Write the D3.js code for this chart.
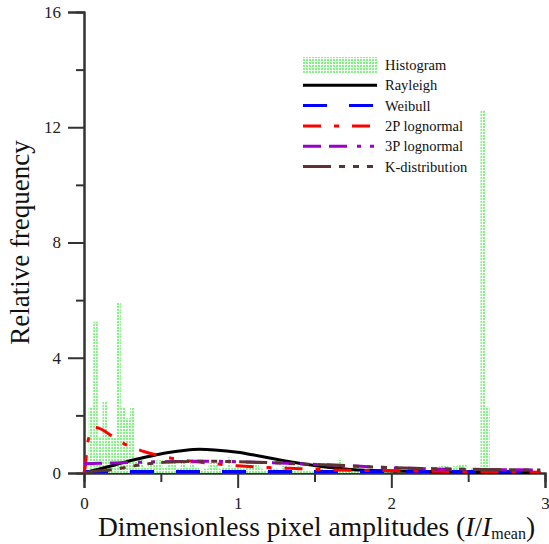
<!DOCTYPE html>
<html>
<head>
<meta charset="utf-8">
<script src="https://cdn.jsdelivr.net/npm/d3@7"></script>
<style>
  body { margin: 0; background: #fff; }
  svg { display: block; font-family: "Liberation Serif", "Times New Roman", serif; }
</style>
</head>
<body>
<div id="chart"></div>
<script>
// histogram: bins of 0.03 starting at 0
const histStep = 0.03;
const histValues = [
  0, 2.26, 5.25, 1.26, 2.5, 1.3, 1.25, 5.9, 2.26, 1.9,
  2.26, 0.45, 0.45, 0.2, 0.3, 0.45, 0.45, 0.2, 0.35, 0.35,
  0.15, 0.35, 0.2, 0.35, 0.2, 0.1, 0.15, 0.35, 0.35, 0.15,
  0.2, 0.55, 0.2, 0.2, 0.15, 0.3, 0.3, 0.3, 0.15, 0.1,
  0.2, 0.15, 0.1, 0.25, 0.1, 0.15, 0.25, 0.1, 0.1, 0.05,
  0.1, 0.15, 0.05, 0.1, 0.1, 0.45, 0.1, 0.2, 0.2, 0.05,
  0.05, 0.1, 0.05, 0.05, 0, 0.05, 0.05, 0, 0.05, 0.05,
  0, 0.05, 0.05, 0, 0.05, 0.05, 0.05, 0.24, 0.24, 0.05,
  0.24, 0.3, 0.3, 0.05, 0.2, 0.2, 12.6, 2.3, 0.05, 0.05,
  0, 0.05, 0.05, 0, 0.05, 0.05, 0, 0.05, 0, 0
];

// fitted curves as [x, y]
const rayleigh = [[0,0],[0.1,0.14],[0.2,0.28],[0.32,0.45],[0.42,0.57],[0.54,0.7],[0.65,0.78],
  [0.75,0.82],[0.85,0.8],[1.0,0.72],[1.1,0.63],[1.2,0.53],[1.3,0.43],[1.4,0.34],[1.5,0.26],
  [1.6,0.19],[1.7,0.14],[1.8,0.1],[2.0,0.07],[2.2,0.05],[2.4,0.04],[2.6,0.03],[2.8,0.02],[2.97,0.02]];
const weibull = [[0,0.05],[0.5,0.05],[1.0,0.05],[1.5,0.05],[2.0,0.05],[2.5,0.05],[2.97,0.05]];
const lognormal2 = [[0,0],[0.01,0.3],[0.02,0.9],[0.04,1.35],[0.07,1.58],[0.1,1.55],[0.15,1.4],
  [0.2,1.22],[0.25,1.05],[0.3,0.92],[0.35,0.82],[0.4,0.73],[0.46,0.64],[0.56,0.52],[0.65,0.44],
  [0.75,0.38],[0.85,0.32],[1.0,0.25],[1.2,0.19],[1.4,0.15],[1.6,0.11],[1.8,0.09],[2.0,0.08],
  [2.2,0.07],[2.4,0.05],[2.6,0.04],[2.8,0.035],[2.97,0.03]];
const lognormal3 = [[0,0.32],[0.2,0.35],[0.4,0.38],[0.6,0.4],[0.8,0.41],[1.0,0.39],[1.2,0.36],
  [1.4,0.32],[1.6,0.28],[1.8,0.23],[2.0,0.18],[2.2,0.15],[2.4,0.13],[2.6,0.12],[2.8,0.11],[2.97,0.1]];
const kdist = [[0,0],[0.05,0.05],[0.15,0.09],[0.25,0.17],[0.35,0.27],[0.45,0.34],[0.6,0.39],
  [0.8,0.41],[1.0,0.39],[1.2,0.36],[1.4,0.32],[1.6,0.28],[1.8,0.23],[2.0,0.19],[2.2,0.16],
  [2.4,0.14],[2.6,0.12],[2.8,0.11],[2.97,0.1]];

const xTicks = [0, 1, 2, 3];
const yTicks = [0, 4, 8, 12, 16];
const legendLabels = ["Histogram", "Rayleigh", "Weibull", "2P lognormal", "3P lognormal", "K-distribution"];

const width = 549, height = 544;
const margin = {top: 12, right: 4, bottom: 71, left: 84};

const x = d3.scaleLinear().domain([0, 3]).range([margin.left, width - margin.right]);
const y = d3.scaleLinear().domain([0, 16]).range([height - margin.bottom, margin.top]);

const svg = d3.select("#chart").append("svg")
  .attr("width", width)
  .attr("height", height)
  .attr("viewBox", [0, 0, width, height]);

// dotted green fill for the histogram
const pat = svg.append("defs").append("pattern")
  .attr("id", "dots")
  .attr("patternUnits", "userSpaceOnUse")
  .attr("width", 3).attr("height", 3);
pat.append("rect").attr("width", 3).attr("height", 3).attr("fill", "#f2fff2");
pat.append("rect").attr("width", 2).attr("height", 2).attr("fill", "#88f088");

// axes
const axisColor = "#333";
const xAxis = d3.axisBottom(x).tickValues(xTicks).tickSize(15).tickFormat(d3.format("d"));
const xMinor = d3.axisBottom(x).tickValues([0.5, 1.5, 2.5]).tickSize(9).tickFormat("");
const yAxis = d3.axisLeft(y).tickValues(yTicks).tickSize(16).tickFormat(d3.format("d"));
const yMinor = d3.axisLeft(y).tickValues([2, 6, 10, 14]).tickSize(8).tickFormat("");

function styleAxis(g) {
  g.attr("font-family", "'Liberation Serif', serif").attr("font-size", 17);
  g.select(".domain").attr("stroke", axisColor).attr("stroke-width", 2);
  g.selectAll(".tick line").attr("stroke", axisColor).attr("stroke-width", 2);
  g.selectAll(".tick text").attr("fill", "#222");
}

svg.append("g").attr("transform", `translate(0,${y(0)})`).call(xMinor).call(styleAxis);
svg.append("g").attr("transform", `translate(0,${y(0)})`).call(xAxis).call(styleAxis)
  .call(g => g.selectAll(".tick text").attr("dy", "1.05em"));
svg.append("g").attr("transform", `translate(${x(0)},0)`).call(yMinor).call(styleAxis);
svg.append("g").attr("transform", `translate(${x(0)},0)`).call(yAxis).call(styleAxis)
  .call(g => g.selectAll(".tick text").attr("x", -23));

svg.append("g")
  .selectAll("rect")
  .data(histValues)
  .join("rect")
  .attr("x", (d, i) => x(i * histStep))
  .attr("width", (d, i) => x((i + 1) * histStep) - x(i * histStep))
  .attr("y", d => y(d))
  .attr("height", d => y(0) - y(d))
  .attr("fill", "url(#dots)");

// series styles
const series = [
  {data: rayleigh, color: "#000000", dash: null},
  {data: weibull, color: "#0000ff", dash: "24 22"},
  {data: lognormal2, color: "#ff0000", dash: "18 13 5 13"},
  {data: lognormal3, color: "#9900cc", dash: "18 8 18 10 4 9 4 10"},
  {data: kdist, color: "#5c3333", dash: "28 8 6 8 6 8 6 8"}
];

const line = d3.line()
  .x(d => x(d[0]))
  .y(d => y(d[1]))
  .curve(d3.curveMonotoneX);

svg.append("g")
  .selectAll("path")
  .data(series)
  .join("path")
  .attr("d", s => line(s.data))
  .attr("fill", "none")
  .attr("stroke", s => s.color)
  .attr("stroke-width", 3)
  .attr("stroke-dasharray", s => s.dash);

// axis titles
const xTitle = svg.append("text")
  .attr("x", (x(0) + x(3)) / 2 + 2)
  .attr("y", 536)
  .attr("text-anchor", "middle")
  .attr("font-size", 27.5)
  .attr("fill", "#111");
xTitle.append("tspan").text("Dimensionless pixel amplitudes (");
xTitle.append("tspan").attr("font-style", "italic").text("I");
xTitle.append("tspan").text("/");
xTitle.append("tspan").attr("font-style", "italic").text("I");
xTitle.append("tspan").attr("font-size", 16).attr("dy", 3).text("mean");
xTitle.append("tspan").attr("dy", -3).text(")");

svg.append("text")
  .attr("transform", `translate(29,${y(8)}) rotate(-90)`)
  .attr("text-anchor", "middle")
  .attr("font-size", 27)
  .attr("fill", "#111")
  .text("Relative frequency");

// legend
const legend = svg.append("g").attr("transform", "translate(303,65)");
const rowH = 20.3;
legend.append("rect")
  .attr("x", 0).attr("y", -8)
  .attr("width", 74).attr("height", 16)
  .attr("fill", "url(#dots)");
legend.selectAll("line")
  .data(series)
  .join("line")
  .attr("x1", 0).attr("x2", 74)
  .attr("y1", (s, i) => (i + 1) * rowH)
  .attr("y2", (s, i) => (i + 1) * rowH)
  .attr("stroke", s => s.color)
  .attr("stroke-width", 3)
  .attr("stroke-dasharray", s => s.dash);
legend.selectAll("text")
  .data(legendLabels)
  .join("text")
  .attr("x", 82)
  .attr("y", (d, i) => i * rowH)
  .attr("dy", "0.35em")
  .attr("font-size", 14.5)
  .attr("fill", "#111")
  .text(d => d);
</script>
</body>
</html>
